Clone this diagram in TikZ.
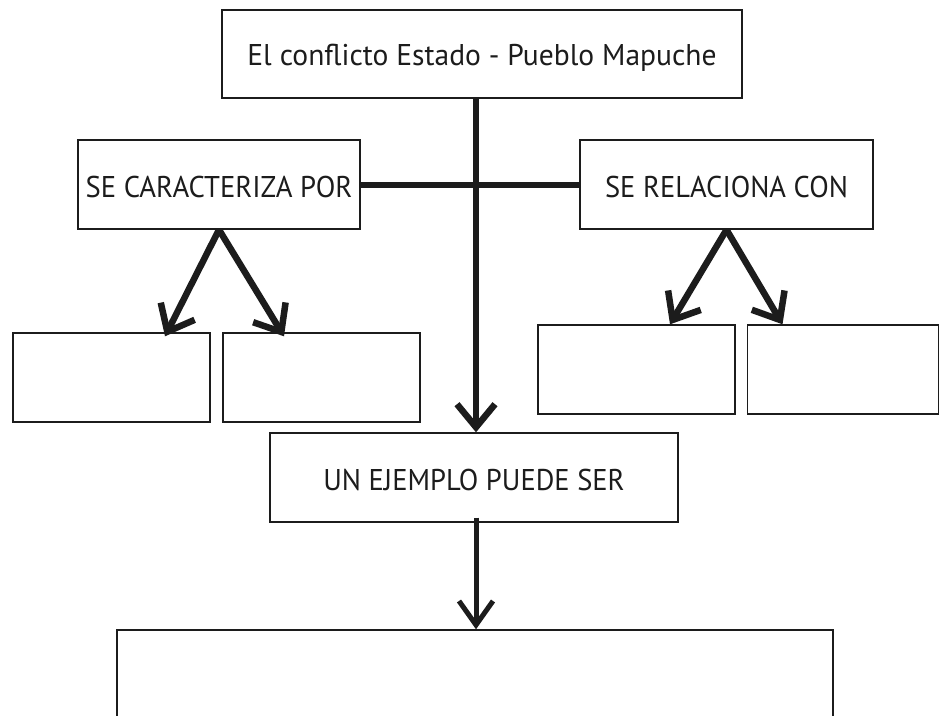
\documentclass[tikz,border=0pt]{standalone}
\usepackage{fontspec}
\setmainfont{PT Sans}
\usetikzlibrary{arrows.meta,calc}
\definecolor{ink}{HTML}{1C1C1C}
\tikzset{
  box/.style={draw=ink, line width=1.4pt, fill=white, inner sep=0pt, font=\fontsize{30}{34}\selectfont, text=ink, text depth=0pt},
  conn/.style={draw=ink, line width=6pt},
  arr/.style={draw=ink, line width=6.5pt, -{Straight Barb[length=23pt,width=38pt,line width=6.5pt]}},
  arrthin/.style={draw=ink, line width=5pt, -{Straight Barb[length=24pt,width=34pt,line width=5pt]}}
}
\begin{document}
\begin{tikzpicture}[x=1pt,y=-1pt]
\useasboundingbox (0,0) rectangle (939,715);
\fill[white] (0,0) rectangle (939,715);
\clip (0,0) rectangle (939,715);
\node[box, minimum width=520pt, minimum height=88pt, text height=22pt] (top) at (482,54) {\scalebox{0.985}[1]{El conflicto Estado - Pueblo Mapuche}};
\node[box, minimum width=282pt, minimum height=89pt, text height=26pt] (left) at (219,184.5) {\scalebox{0.955}[1]{SE CARACTERIZA POR}};
\node[box, minimum width=293pt, minimum height=89pt, text height=26pt] (right) at (726.5,184.5) {\scalebox{0.95}[1]{SE RELACIONA CON}};
\node[box, minimum width=197pt, minimum height=89pt] (ll1) at (111.5,377.5) {};
\node[box, minimum width=197pt, minimum height=89pt] (ll2) at (321.5,377.5) {};
\node[box, minimum width=197pt, minimum height=89pt] (rl1) at (636.5,369.5) {};
\node[box, minimum width=191pt, minimum height=89pt] (rl2) at (843,369.5) {};
\node[box, minimum width=408pt, minimum height=89pt, text height=25pt] (mid) at (474,477.5) {\scalebox{0.95}[1]{UN EJEMPLO PUEDE SER}};
\node[box, minimum width=716pt, minimum height=120pt] (bot) at (475,690) {};
\draw[conn] (left.east) -- (right.west);
\draw[arr] (top.south -| 476,0) -- (mid.north -| 476,0);
\draw[arr] (left.south) -- ([xshift=53.5pt,yshift=-4pt]ll1.north);
\draw[arr] (left.south) -- ([xshift=-37.5pt,yshift=-4pt]ll2.north);
\draw[arr] (right.south) -- ([xshift=33.5pt]rl1.north);
\draw[arr] (right.south) -- ([xshift=-60.5pt]rl2.north);
\draw[arrthin] ([yshift=5pt]mid.south -| 476,0) -- (bot.north -| 476,0);
\end{tikzpicture}
\end{document}
